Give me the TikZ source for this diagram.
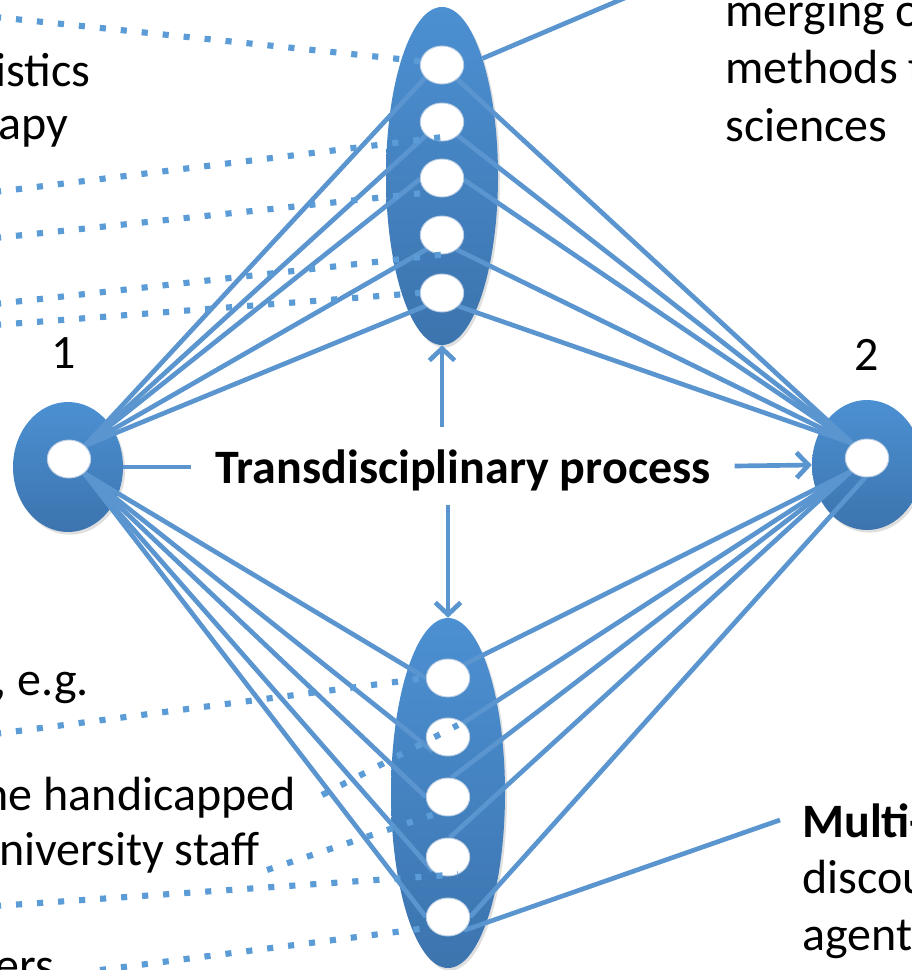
\documentclass[tikz,border=0pt]{standalone}
\usepackage{fontspec}
\setmainfont{Carlito}
\usetikzlibrary{shapes.geometric,arrows.meta,shadows}
\definecolor{lineblue}{HTML}{5A95CF}
\definecolor{ellTop}{HTML}{4C90D2}
\definecolor{ellBot}{HTML}{3C74AE}
\definecolor{dotblue}{HTML}{5B9BD6}
\pgfdeclarelayer{bg}
\pgfdeclarelayer{mid}
\pgfsetlayers{bg,mid,main}
\begin{document}
\begin{tikzpicture}[x=0.75pt,y=-0.75pt,
  big/.style={ellipse, top color=ellTop, bottom color=ellBot, draw=none, inner sep=0pt,
    drop shadow={opacity=0.25, shadow xshift=1.5pt, shadow yshift=-2pt}},
  hole/.style={ellipse, fill=white, draw=ellBot!35, line width=0.7pt, minimum width=32.5pt, minimum height=28.5pt, inner sep=0pt},
  conn/.style={draw=lineblue, line width=3.5pt},
  dotline/.style={draw=dotblue, line width=4.6pt, dash pattern=on 4.6pt off 11.2pt},
  lbl/.style={font=\fontsize{36}{43}\selectfont, inner sep=0pt, text=black},
  lblb/.style={font=\fontsize{36}{43}\selectfont\bfseries, inner sep=0pt, text=black},
  tip/.style={-{Straight Barb[length=9pt,width=19pt,line width=3.5pt]}}
]
\useasboundingbox (0,0) rectangle (911,970);
\clip (0,0) rectangle (911,970);

% big blue ellipses
\begin{pgfonlayer}{bg}
\node[big, minimum width=84pt, minimum height=253.5pt] (topE) at (442,176) {};
\node[big, minimum width=85.5pt, minimum height=262.5pt] (botE) at (448,793) {};
\node[big, minimum width=82.5pt, minimum height=97.5pt] (n1) at (68,467) {};
\node[big, minimum width=82.5pt, minimum height=97.5pt] (n2) at (867,465) {};
\end{pgfonlayer}

% white holes
\node[hole] (h1) at (69,459) {};
\node[hole] (h2) at (867,458) {};
\node[hole] (t1) at (442,65) {};
\node[hole] (t2) at (442,122) {};
\node[hole] (t3) at (442,178) {};
\node[hole] (t4) at (442,235) {};
\node[hole] (t5) at (442,293) {};
\node[hole] (b1) at (448,678) {};
\node[hole] (b2) at (448,737) {};
\node[hole] (b3) at (448,797) {};
\node[hole] (b4) at (448,857) {};
\node[hole] (b5) at (448,917) {};

% central text
\node[lblb, fill=white, minimum width=407pt, text height=42pt, text depth=16.5pt, inner ysep=0pt] (tp) at (463,466) {Transdisciplinary process};

% free ends
\coordinate (topEnd) at (700,-34);
\coordinate (multiEnd) at (780,820);

% solid connectors
\begin{pgfonlayer}{mid}
\draw[conn] (h1.40) -- (t1.217);
\draw[conn] (h1.40) -- (t2.220);
\draw[conn] (h1.40) -- (t3.183);
\draw[conn] (h1.40) -- (t4.223);
\draw[conn] (h1.40) -- (t5.218);
\draw[conn] (t1.-43) -- (h2.135);
\draw[conn] (t2.-41) -- (h2.135);
\draw[conn] (t3.-5) -- (h2.135);
\draw[conn] (t4.-45) -- (h2.135);
\draw[conn] (t5.-39) -- (h2.135);
\draw[conn] (h1.-43) -- (b1.180);
\draw[conn] (h1.-43) -- (b2.223);
\draw[conn] (h1.-43) -- (b3.180);
\draw[conn] (h1.-43) -- (b4.223);
\draw[conn] (h1.-43) -- (b5.180);
\draw[conn] (b1.40) -- (h2.220);
\draw[conn] (b2.43) -- (h2.220);
\draw[conn] (b3.80) -- (h2.220);
\draw[conn] (b4.85) -- (h2.220);
\draw[conn] (b5.0) -- (h2.265);
\draw[conn] (b5.-40) -- (multiEnd);
\draw[conn] (topE.71) -- (topEnd);
\end{pgfonlayer}

% arrows around the central text
\draw[conn] (n1.east) -- (n1.east -| tp.west);
\draw[conn, tip] (tp.east) -- (n2.west);
\draw[conn, tip] (tp.north -| topE.south) -- (topE.south);
\draw[conn, tip] (tp.south -| botE.north) -- (botE.north);

% dotted connectors
\coordinate (d1s) at (-5,17);
\coordinate (d2s) at (-5,192);
\coordinate (d3s) at (-5,238);
\coordinate (d4s) at (-5,304);
\coordinate (d5s) at (-5,325);
\draw[dotline] (d1s) -- (t1.170);
\draw[dotline] (d2s) -- (443,137);
\draw[dotline] (d3s) -- (t3.225);
\draw[dotline] (d4s) -- (t4.-85);
\draw[dotline] (d5s) -- (t5.180);
\coordinate (e1s) at (-5,734);
\coordinate (e2s) at (322,795);
\coordinate (e3s) at (267,870);
\coordinate (e4s) at (-5,906);
\coordinate (e5s) at (100,970);
\draw[dotline] (e1s) -- (b1.180);
\draw[dotline] (e2s) -- (458,725);
\draw[dotline] (e3s) -- (b3.235);
\draw[dotline] (e4s) -- (b4.-60);
\draw[dotline] (e5s) -- (b5.210);

% labels
\node[lbl, anchor=base] (one) at (64,368) {1};
\node[lbl, anchor=base] (two) at (867,370) {2};

\node[lbl, anchor=base east] (L1) at (91,87) {istics};
\node[lbl, anchor=base east] (L2) at (68,140) {apy};
\node[lbl, anchor=base east] (L3) at (89,695) {, e.g.};
\node[lbl, anchor=base east] (L4) at (296,810) {he handicapped};
\node[lbl, anchor=base west] (L5) at (-1,865) {niversity staff};
\node[lbl, anchor=base east] (L6) at (54,981) {ers};

\node[lbl, anchor=base west] (R1) at (725,27) {merging o};
\node[lbl, anchor=base west] (R2) at (725,84) {methods f};
\node[lbl, anchor=base west] (R3) at (725,142) {sciences};

\node[lblb, anchor=base west] (M1) at (802,837) {Multi-};
\node[lbl, anchor=base west] (M2) at (802,893) {discou};
\node[lbl, anchor=base west] (M3) at (802,950) {agent};
\end{tikzpicture}
\end{document}
